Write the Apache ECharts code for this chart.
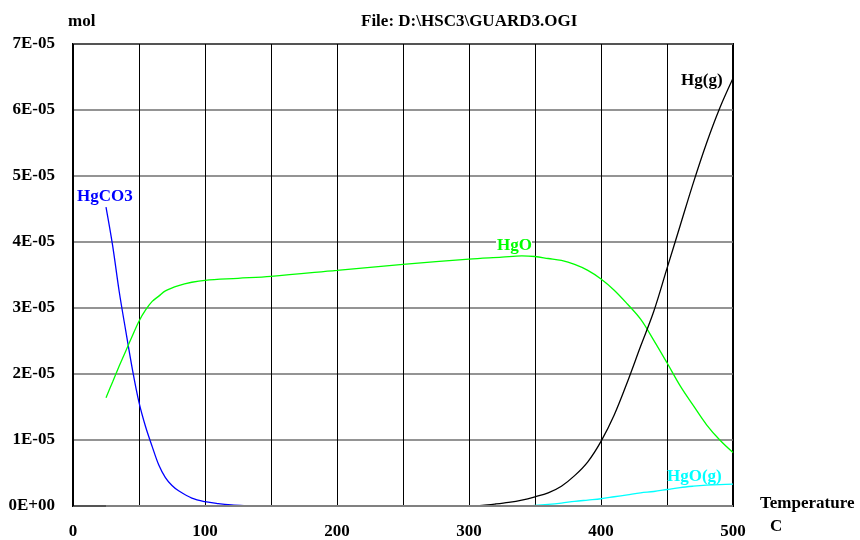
<!DOCTYPE html>
<html>
<head>
<meta charset="utf-8">
<script src="https://cdn.jsdelivr.net/npm/echarts@6/dist/echarts.min.js"></script>
<style>html,body{margin:0;padding:0;background:#fff}#c{width:860px;height:540px}</style>
</head>
<body>
<div id="c"></div>
<script>
// Temperature (C) and amounts (mol)
const hgco3T = [25, 30, 35, 40, 45, 50, 55, 60, 65, 70, 75, 80, 90, 100, 110, 120, 130, 140];
const hgco3V = [4.53e-5, 3.95e-5, 3.25e-5, 2.65e-5, 2.07e-5, 1.57e-5, 1.2e-5, 0.9e-5, 0.62e-5, 0.43e-5, 0.31e-5, 0.23e-5, 0.12e-5, 0.065e-5, 0.035e-5, 0.015e-5, 0.005e-5, 0];

const hgoT = [25, 30, 35, 40, 45, 50, 55, 60, 65, 70, 80, 90, 100, 125, 150, 200, 250, 300, 325, 340, 350, 360, 370, 380, 390, 400, 410, 420, 430, 440, 450, 460, 470, 480, 490, 500];
const hgoV = [1.64e-5, 1.88e-5, 2.12e-5, 2.35e-5, 2.58e-5, 2.8e-5, 2.97e-5, 3.1e-5, 3.18e-5, 3.26e-5, 3.34e-5, 3.39e-5, 3.42e-5, 3.45e-5, 3.48e-5, 3.57e-5, 3.66e-5, 3.74e-5, 3.77e-5, 3.79e-5, 3.78e-5, 3.75e-5, 3.72e-5, 3.66e-5, 3.57e-5, 3.44e-5, 3.27e-5, 3.06e-5, 2.83e-5, 2.51e-5, 2.17e-5, 1.82e-5, 1.52e-5, 1.23e-5, 1.0e-5, 0.81e-5];

const hggT = [300, 310, 320, 330, 340, 350, 360, 370, 380, 390, 400, 410, 420, 430, 440, 450, 460, 470, 480, 490, 500];
const hggV = [0, 0.01e-5, 0.03e-5, 0.055e-5, 0.09e-5, 0.14e-5, 0.2e-5, 0.3e-5, 0.46e-5, 0.67e-5, 0.98e-5, 1.38e-5, 1.88e-5, 2.42e-5, 2.95e-5, 3.6e-5, 4.25e-5, 4.9e-5, 5.5e-5, 6.03e-5, 6.48e-5];

const hgogT = [340, 350, 360, 370, 380, 390, 400, 410, 420, 430, 440, 450, 460, 470, 480, 490, 500];
const hgogV = [0, 0.01e-5, 0.025e-5, 0.045e-5, 0.07e-5, 0.09e-5, 0.11e-5, 0.14e-5, 0.17e-5, 0.2e-5, 0.22e-5, 0.25e-5, 0.28e-5, 0.3e-5, 0.315e-5, 0.325e-5, 0.33e-5];

const xTickLabels = ['0', '100', '200', '300', '400', '500'];

const zip = (t, v) => t.map((x, i) => [x, v[i]]);
const FONT = 'Liberation Serif';

function expFmt(v) {
  const s = Number(v).toExponential(0);
  const [m, e] = s.split('e');
  const sign = e[0];
  const d = e.slice(1).padStart(2, '0');
  return m + 'E' + sign + d;
}

function line(name, t, v, color, extra) {
  return Object.assign({
    name, type: 'line', data: zip(t, v), showSymbol: false, symbol: 'none',
    smooth: 0.35,
    lineStyle: { color, width: 1.3 }, itemStyle: { color }, z: 3
  }, extra || {});
}

const chart = echarts.init(document.getElementById('c'), null, { renderer: 'canvas' });
chart.setOption({
  animation: false,
  backgroundColor: '#ffffff',
  grid: { left: 73, right: 127, top: 44, bottom: 30, show: true, borderColor: '#000', borderWidth: 2, backgroundColor: 'transparent' },
  xAxis: {
    type: 'value', min: 0, max: 500, interval: 50,
    axisLine: { show: false },
    axisTick: { show: false },
    axisLabel: {
      margin: 17, color: '#000', fontFamily: FONT, fontWeight: 'bold', fontSize: 17,
      formatter: (v) => xTickLabels.includes(String(v)) ? String(v) : ''
    },
    splitLine: { show: true, lineStyle: { color: '#000', width: 1 } }
  },
  yAxis: {
    type: 'value', min: 0, max: 7e-5, interval: 1e-5,
    axisLine: { show: false },
    axisTick: { show: false },
    axisLabel: { margin: 18, color: '#000', fontFamily: FONT, fontWeight: 'bold', fontSize: 17, formatter: expFmt },
    splitLine: { show: true, lineStyle: { color: '#707070', width: 1.6 } }
  },
  series: [
    line('HgCO3', hgco3T, hgco3V, '#0000ff', {
      markLine: {
        silent: true, symbol: 'none', label: { show: false },
        lineStyle: { color: '#808080', width: 2, type: 'solid' },
        data: [[{ coord: [hgco3T[0], 0] }, { coord: [500, 0] }]]
      }
    }),
    line('HgO', hgoT, hgoV, '#00ff00'),
    line('Hg(g)', hggT, hggV, '#000000'),
    line('HgO(g)', hgogT, hgogV, '#00ffff')
  ],
  graphic: [
    { type: 'text', left: 68, top: 13, style: { text: 'mol', font: 'bold 17px "Liberation Serif"', fill: '#000' } },
    { type: 'text', left: 361, top: 13, style: { text: 'File: D:\\HSC3\\GUARD3.OGI', font: 'bold 17px "Liberation Serif"', fill: '#000' } },
    { type: 'text', left: 760, top: 495, style: { text: 'Temperature', font: 'bold 17px "Liberation Serif"', fill: '#000' } },
    { type: 'text', left: 770, top: 518, style: { text: 'C', font: 'bold 17px "Liberation Serif"', fill: '#000' } },
    { type: 'text', left: 77, top: 188, z: 10, style: { text: 'HgCO3', font: 'bold 17px "Liberation Serif"', fill: '#0000ff' } },
    { type: 'rect', left: 496, top: 239, z: 9, shape: { width: 36, height: 14 }, style: { fill: '#fff' } },
    { type: 'text', left: 497, top: 237, z: 10, style: { text: 'HgO', font: 'bold 17px "Liberation Serif"', fill: '#00ff00' } },
    { type: 'text', left: 681, top: 72, z: 10, style: { text: 'Hg(g)', font: 'bold 17px "Liberation Serif"', fill: '#000' } },
    { type: 'text', left: 667, top: 468, z: 10, style: { text: 'HgO(g)', font: 'bold 17px "Liberation Serif"', fill: '#00ffff' } }
  ]
});
</script>
</body>
</html>
